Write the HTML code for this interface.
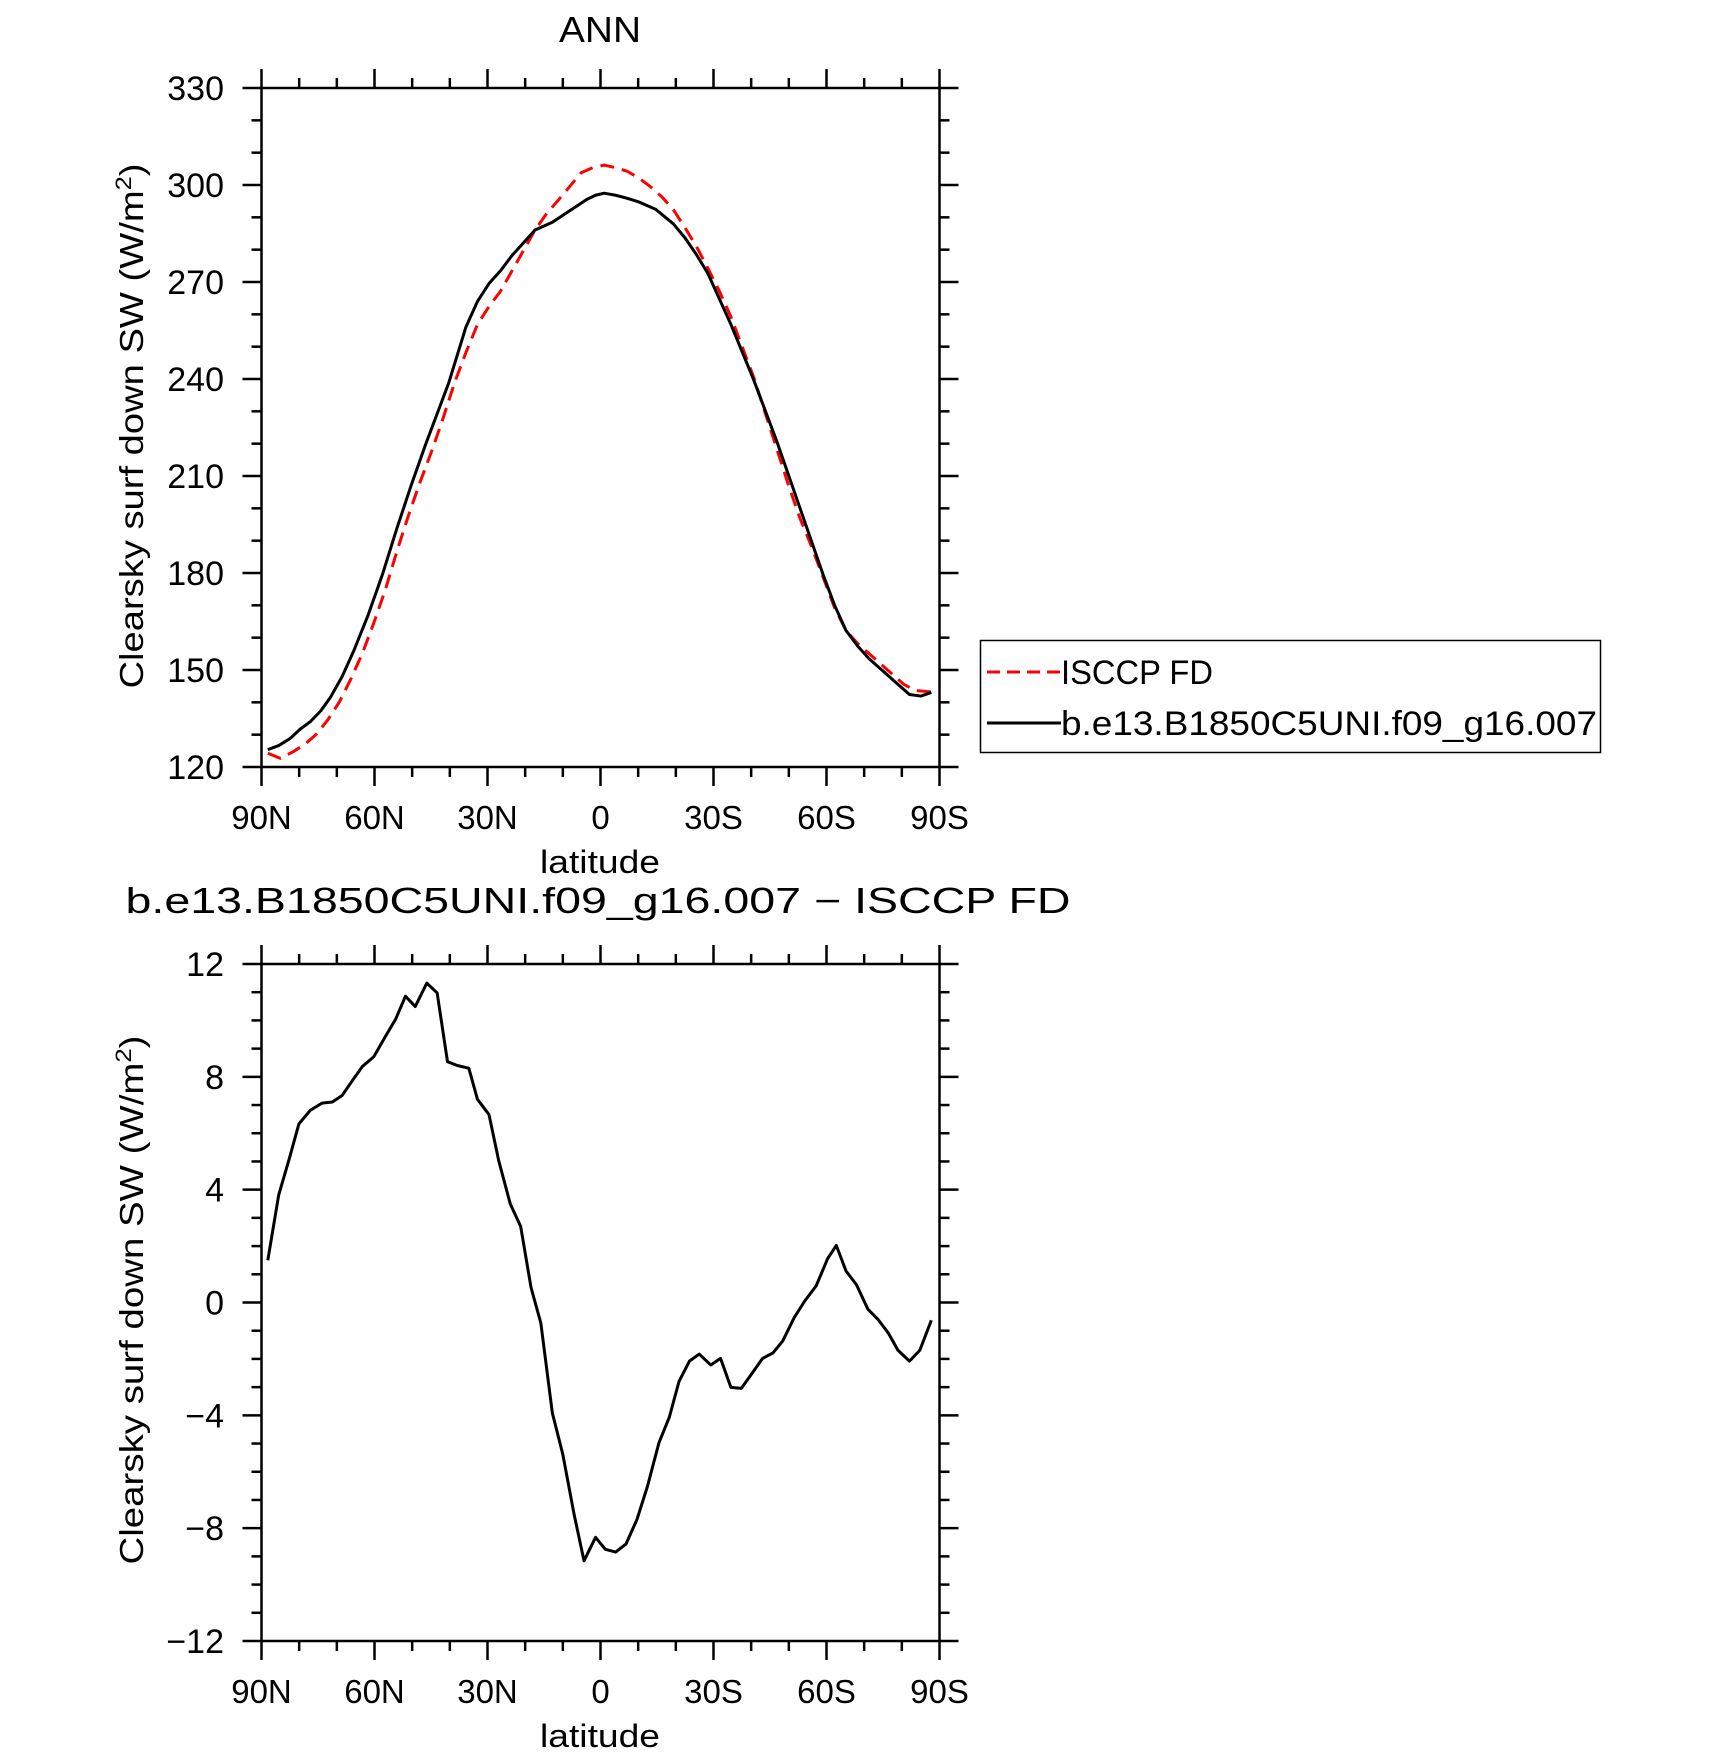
<!DOCTYPE html>
<html><head><meta charset="utf-8"><style>
html,body{margin:0;padding:0;background:#fff;}
svg{display:block;font-family:"Liberation Sans",sans-serif;}
text{fill:#000;}
</style></head><body>
<svg id="s" width="1710" height="1756" viewBox="0 0 1710 1756" xmlns="http://www.w3.org/2000/svg">
<rect width="1710" height="1756" fill="#fff"/>
<text x="600" y="42" font-size="36" text-anchor="middle" textLength="82" lengthAdjust="spacingAndGlyphs">ANN</text>
<text x="598" y="913" font-size="36" text-anchor="middle" textLength="945" lengthAdjust="spacingAndGlyphs">b.e13.B1850C5UNI.f09_g16.007 − ISCCP FD</text>
<text transform="translate(143,426) rotate(-90)" font-size="33" text-anchor="middle" textLength="525" lengthAdjust="spacingAndGlyphs">Clearsky surf down SW (W/m<tspan font-size="22" dy="-12">2</tspan><tspan dy="12">)</tspan></text>
<text transform="translate(143,1300) rotate(-90)" font-size="33" text-anchor="middle" textLength="529" lengthAdjust="spacingAndGlyphs">Clearsky surf down SW (W/m<tspan font-size="22" dy="-12">2</tspan><tspan dy="12">)</tspan></text>
<text x="600" y="873" font-size="32" text-anchor="middle" textLength="120" lengthAdjust="spacingAndGlyphs">latitude</text>
<text x="600" y="1747" font-size="32" text-anchor="middle" textLength="120" lengthAdjust="spacingAndGlyphs">latitude</text>
<g id="ax"></g>
<g transform="matrix(0.5760,0,0,0.5105,97.3,61.5)" fill="none" stroke-linejoin="round">
<polyline vector-effect="non-scaling-stroke" stroke="#f00" stroke-width="3" stroke-dasharray="14,8" points="296,1355 318,1365 340,1352 360,1338 380,1318 400,1290 420,1255 440,1210 460,1160 480,1100 500,1035 520,960 540,890 560,825 580,765 600,700 620,630 640,570 660,515 680,480 700,450 720,410 740,370 760,330 780,298 800,272 820,245 840,218 860,208 880,203 900,208 920,215 940,228 960,245 980,265 1000,290 1020,325 1040,362 1060,405 1080,450 1100,500 1120,560 1140,620 1160,690 1180,760 1200,830 1220,895 1240,950 1260,1010 1280,1070 1300,1115 1320,1140 1340,1160 1360,1180 1380,1200 1400,1220 1420,1232 1448,1235"/>
<polyline vector-effect="non-scaling-stroke" stroke="#000" stroke-width="3" points="296,1348 315,1340 335,1326 352,1308 370,1293 388,1272 405,1245 425,1205 445,1155 470,1085 495,1005 520,915 545,830 570,750 590,690 610,630 625,575 640,520 660,470 680,435 700,410 720,380 740,355 760,330 790,315 810,300 830,285 850,270 865,262 880,258 900,262 920,268 940,275 970,290 1000,318 1020,345 1040,378 1060,415 1080,465 1100,515 1120,570 1140,625 1160,685 1180,745 1200,810 1220,875 1240,940 1260,1005 1280,1065 1300,1115 1320,1145 1340,1170 1360,1190 1380,1210 1410,1240 1430,1243 1448,1236"/>
</g>
<g transform="matrix(0.5760,0,0,0.5455,97.3,900.2)" fill="none" stroke-linejoin="round">
<polyline vector-effect="non-scaling-stroke" stroke="#000" stroke-width="3" points="296,660 315,540 333,475 350,410 370,385 390,372 408,370 425,358 440,335 460,305 480,287 500,250 518,218 535,176 552,195 572,152 590,170 608,296 625,303 645,308 660,365 680,393 697,478 717,557 735,598 753,710 770,775 790,940 808,1015 828,1127 845,1211 865,1168 882,1190 900,1195 918,1180 937,1135 955,1075 975,995 993,948 1010,882 1028,845 1045,832 1065,852 1082,840 1100,893 1118,895 1135,870 1155,840 1173,830 1190,808 1210,765 1228,735 1248,707 1268,657 1283,633 1300,680 1318,705 1338,750 1355,768 1373,793 1390,825 1410,845 1428,825 1448,770"/>
</g>
<rect x="980.5" y="640.5" width="620" height="112" fill="none" stroke="#000" stroke-width="1.5"/>
<line x1="987" y1="672" x2="1061" y2="672" stroke="#f00" stroke-width="3" stroke-dasharray="13,7"/>
<line x1="987" y1="723" x2="1061" y2="723" stroke="#000" stroke-width="3"/>
<text x="1061" y="684" font-size="34" textLength="152" lengthAdjust="spacingAndGlyphs">ISCCP FD</text>
<text x="1061" y="735" font-size="34" textLength="536" lengthAdjust="spacingAndGlyphs">b.e13.B1850C5UNI.f09_g16.007</text>
</svg>
<script>
(function(){
var ns="http://www.w3.org/2000/svg",g=document.getElementById("ax");
function el(t,a,txt){var e=document.createElementNS(ns,t);for(var k in a)e.setAttribute(k,a[k]);if(txt!==undefined)e.textContent=txt;g.appendChild(e);return e;}
var L=261.5,R=939.5;
function plot(T,B,vmin,vmax,major,minor,labs,xlabY){
 el("rect",{x:L,y:T,width:R-L,height:B-T,fill:"none",stroke:"#000","stroke-width":2.5});
 var X=function(d){return L+(R-L)*d/180;};
 for(var d=0;d<=180;d+=10){var x=X(d),len=(d%30==0)?19:10;
  el("line",{x1:x,y1:T,x2:x,y2:T-len,stroke:"#000","stroke-width":2.5});
  el("line",{x1:x,y1:B,x2:x,y2:B+len,stroke:"#000","stroke-width":2.5});}
 var xl=["90N","60N","30N","0","30S","60S","90S"];
 for(var i=0;i<7;i++)el("text",{x:X(i*30),y:xlabY,"font-size":33,"text-anchor":"middle"},xl[i]);
 var Y=function(v){return B-(B-T)*(v-vmin)/(vmax-vmin);};
 for(var v=vmin;v<=vmax+1e-9;v+=minor){var y=Y(v),mj=Math.abs(((v-vmin)/major)-Math.round((v-vmin)/major))<1e-6,len=mj?19:10;
  el("line",{x1:L,y1:y,x2:L-len,y2:y,stroke:"#000","stroke-width":2.5});
  el("line",{x1:R,y1:y,x2:R+len,y2:y,stroke:"#000","stroke-width":2.5});}
 for(var j=0;j<labs.length;j++){var v2=vmin+j*major;el("text",{x:224,y:Y(v2)+12,"font-size":34,"text-anchor":"end"},labs[j]);}
}
plot(88,767,120,330,30,10,["120","150","180","210","240","270","300","330"],829);
plot(964,1641,-12,12,4,1,["−12","−8","−4","0","4","8","12"],1703);
})();
</script>
</body></html>
